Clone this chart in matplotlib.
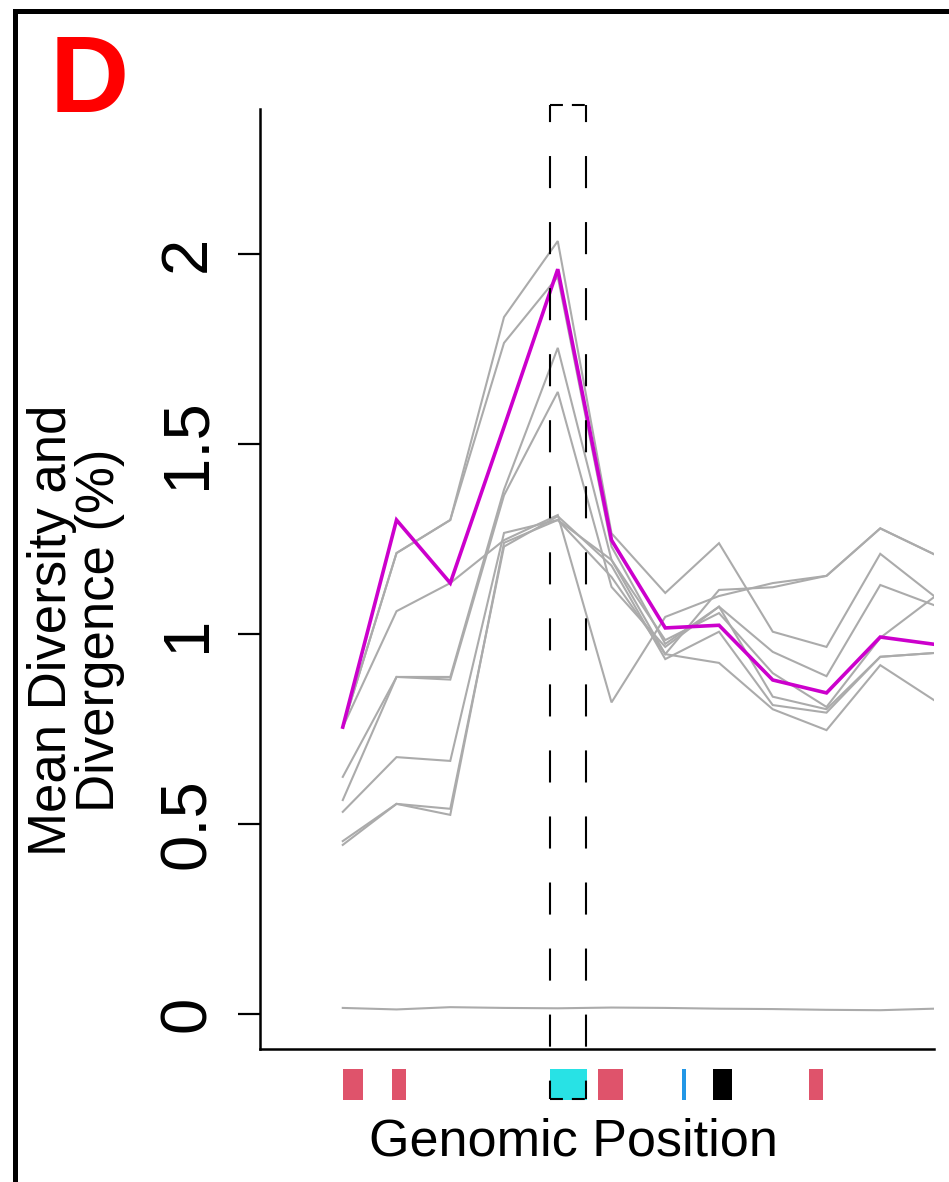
import matplotlib
matplotlib.use("Agg")
import matplotlib.pyplot as plt
from matplotlib.patches import Rectangle
import numpy as np

plt.rcParams["font.family"] = ["Liberation Sans", "DejaVu Sans"]

# ---- data -------------------------------------------------------------
windows = np.arange(12)  # genomic windows along the region

pop_1 = [0.755, 1.213, 1.300, 1.834, 2.034, 1.265, 1.108, 1.239, 1.006, 0.966, 1.211, 1.100]
pop_2 = [0.755, 1.213, 1.300, 1.766, 1.940, 1.230, 0.974, 1.072, 0.953, 0.889, 1.129, 1.076]
pop_3 = [0.624, 0.887, 0.887, 1.380, 1.753, 1.195, 0.984, 1.055, 0.897, 0.808, 0.990, 1.097]
pop_4 = [0.563, 0.887, 0.880, 1.365, 1.637, 1.124, 0.966, 1.072, 0.835, 0.802, 0.940, 0.950]
pop_5 = [0.755, 1.060, 1.134, 1.247, 1.313, 0.820, 1.045, 1.100, 1.134, 1.153, 1.278, 1.210]
pop_6 = [0.532, 0.676, 0.666, 1.266, 1.300, 1.195, 0.947, 1.116, 1.123, 1.153, 1.278, 1.210]
pop_7 = [0.455, 0.553, 0.540, 1.230, 1.310, 1.180, 0.934, 1.006, 0.813, 0.793, 0.940, 0.950]
pop_8 = [0.445, 0.553, 0.524, 1.240, 1.300, 1.150, 0.947, 0.924, 0.802, 0.747, 0.918, 0.826]
baseline = [0.016, 0.012, 0.018, 0.016, 0.015, 0.017, 0.016, 0.014, 0.013, 0.011, 0.010, 0.014]
mean_all = [0.755, 1.300, 1.134, 1.545, 1.960, 1.247, 1.016, 1.023, 0.879, 0.845, 0.992, 0.973]

gray_series = [pop_1, pop_2, pop_3, pop_4, pop_5, pop_6, pop_7, pop_8, baseline]

y_ticks = [0, 0.5, 1, 1.5, 2]
y_tick_labels = ["0", "0.5", "1", "1.5", "2"]

# gene / feature track under the axis (window coordinates)
feature_starts = [0.00, 0.91, 3.85, 4.74, 6.32, 6.88, 8.68]
feature_ends = [0.37, 1.17, 4.55, 5.22, 6.39, 7.25, 8.94]
feature_colors = ["#DF536B", "#DF536B", "#28E2E5", "#DF536B", "#2297E6", "#000000", "#DF536B"]

# highlighted region
region_x = (3.85, 4.52)
region_y = (-0.224, 2.392)
track_y = (-0.226, -0.145)

# ---- figure -----------------------------------------------------------
W, H = 949, 1182
fig = plt.figure(figsize=(W / 100, H / 100), dpi=100)
fig.patch.set_facecolor("white")

ax = fig.add_axes([260 / W, 1 - 1049 / H, (934 - 260) / W, (1049 - 109) / H])
ax.set_xlim(-1.54, 11.0)
ax.set_ylim(-0.0921, 2.3816)

for s in gray_series:
    ax.plot(windows, s, color="#ABABAB", lw=1.5, solid_joinstyle="miter", zorder=2)
ax.plot(windows, mean_all, color="#CC00CC", lw=2.6, solid_joinstyle="miter", zorder=3)

# spines / ticks
for side in ("top", "right"):
    ax.spines[side].set_visible(False)
for side in ("left", "bottom"):
    ax.spines[side].set_linewidth(1.8)
ax.set_xticks([])
ax.set_yticks(y_ticks)
ax.set_yticklabels(y_tick_labels, rotation=90, va="center", fontsize=47)
ax.tick_params(axis="y", length=16, width=1.6, pad=14.5)

# dashed highlight region
x0, x1 = region_x
y0, y1 = region_y
vstyle = dict(color="black", lw=1.5, clip_on=False, zorder=5)
ax.plot([x0, x0], [y1, y0], linestyle=(7.2, (15.4, 16.3)), **vstyle)
ax.plot([x1, x1], [y1, y0], linestyle=(7.2, (15.4, 16.3)), **vstyle)
ax.plot([x0, x1], [y1, y1], linestyle=(0, (6.2, 4.3)), **vstyle)
ax.plot([x0, x1], [y0, y0], linestyle=(0, (6.2, 4.3)), **vstyle)

# feature track
for a, b, c in zip(feature_starts, feature_ends, feature_colors):
    ax.add_patch(Rectangle((a, track_y[0]), b - a, track_y[1] - track_y[0],
                           facecolor=c, edgecolor="none", clip_on=False, zorder=4))

# axis titles
fig.text(573 / W, 1 - 1155 / H, "Genomic Position", fontsize=37.5,
         ha="center", va="baseline")
fig.text(66 / W, 1 - 630 / H, "Mean Diversity and", fontsize=38, rotation=90,
         rotation_mode="anchor", ha="center", va="baseline")
fig.text(114 / W, 1 - 630 / H, "Divergence (%)", fontsize=38, rotation=90,
         rotation_mode="anchor", ha="center", va="baseline")

# panel letter and frame
fig.text(50 / W, 1 - 112 / H, "D", fontsize=79, fontweight="bold",
         color="#FF0000", ha="left", va="baseline")
fig.add_artist(Rectangle((15.5 / W, -0.1), 2, 1.1 - 10.5 / H, transform=fig.transFigure,
                         fill=False, edgecolor="black", lw=3.6, clip_on=False))

fig.savefig("out.png", dpi=100)
